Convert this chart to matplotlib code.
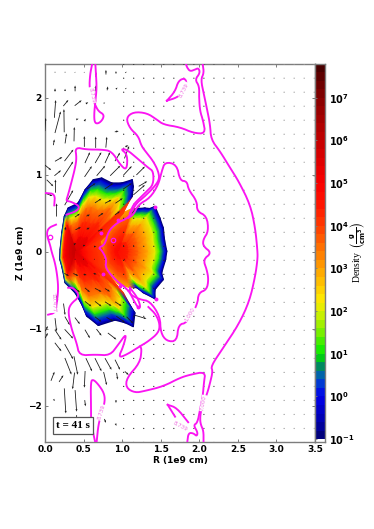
import numpy as np
import matplotlib
matplotlib.use("Agg")
import matplotlib.pyplot as plt
from matplotlib.colors import LinearSegmentedColormap, Normalize

# ---------- colour scale (log10 density -> colour) ----------
cmap_levels = [-1, -.6, 0, .3, .5, .7, .85, 1, 1.5, 2, 2.3, 2.7, 3, 3.5, 4, 4.5, 5, 5.5, 6, 6.5, 7, 7.5, 7.8]
cmap_rgb = [(0,0,110),(0,0,170),(0,0,235),(0,60,210),(0,100,170),(0,140,90),(0,190,30),(0,235,0),
            (120,240,0),(220,240,0),(255,230,0),(255,190,0),(255,160,0),(255,110,0),(255,60,0),
            (255,20,0),(250,0,0),(225,0,0),(195,0,0),(165,0,0),(135,0,0),(95,0,0),(65,0,0)]
cbar_ticks = [-1, 0, 1, 2, 3, 4, 5, 6, 7]
x_ticks = [0, .5, 1, 1.5, 2, 2.5, 3, 3.5]
y_ticks = [-2, -1, 0, 1, 2]

# ---------- density lobes: outline points, with a density profile per ray ----------
shell_frac = [1, .96, .90, .84, .75, .6, .4, .2, 0]
left_center = (.40, 0.0)
left_outline_r = [.757,.713,.82,.93,1.016,1.08,1.133,1.146,1.133,.994,.865,.735,.627,.52,.43,.30,.25,.216,.195,.19,.216,.26,.39,.476,.54,.692,.908,1.038,1.146,1.167,1.10,1.016,.908,.778]
left_outline_z = [-.017,.134,.242,.394,.502,.632,.719,.848,.935,.892,.892,.957,.935,.805,.632,.567,.459,.242,.026,-.1,-.19,-.407,-.537,-.688,-.84,-.961,-.892,-.926,-.978,-.797,-.688,-.537,-.407,-.234]
left_ray_kind = [1,1,1,1,1,1,0,0,0,0,0,0,0,0,0,0,2,2,2,2,2,2,0,0,0,0,0,0,0,0,0,1,1,1]
left_profiles = [[-1,-.1,.5,1.1,2.2,3.4,4.2,4.9,5.8],
                 [4.0,4.0,4.1,4.1,4.2,4.3,4.5,5.0,5.8],
                 [-1,.5,2,3.5,4.6,5.2,5.6,5.8,5.9]]
right_center = (.95, 0.0)
right_outline_r = [1.58,1.55,1.535,1.49,1.427,1.36,1.297,1.2,1.13,1.0,.85,.72,.72,.78,.95,1.1,1.19,1.275,1.427,1.427,1.535,1.513,1.565]
right_outline_z = [.004,.156,.307,.437,.589,.56,.567,.56,.56,.5,.35,.15,-.05,-.25,-.42,-.47,-.47,-.537,-.615,-.494,-.364,-.277,-.104]
right_ray_kind = [0,0,0,0,0,0,0,0,1,1,1,1,1,1,1,1,0,0,0,0,0,0,0]
right_profiles = [[-1,0,.6,1.2,2.1,2.9,3.6,4.3,4.9],
                  [3,3.1,3.2,3.4,3.7,4.0,4.3,4.6,4.9]]

# ---------- magenta contour lines (R, Z) ----------
contours = [
 [(.61,2.43),(.584,2.30),(.575,2.126),(.61,1.996),(.649,1.909),(.692,1.823),(.765,1.779),(.748,1.714),(.692,1.662),(.644,1.671),(.636,1.779),(.653,1.952),(.67,2.126),(.661,2.30),(.653,2.43)],
 [(.649,-2.47),(.597,-2.225),(.597,-2.05),(.592,-1.684),(.627,-1.662),(.692,-1.727),(.765,-1.835),(.778,-1.944),(.735,-2.095),(.692,-2.247),(.67,-2.47)],
 [(1.58,1.96),(1.686,2.08),(1.73,2.22),(1.816,2.255),(1.84,2.17),(1.79,2.07),(1.708,2.0),(1.58,1.96)],
 [(1.59,-1.99),(1.708,-2.03),(1.856,-2.217)],
 [(1.59,-1.99),(1.686,-2.145)],
 [(2.045,2.43),(2.06,2.32),(2.02,2.234),(2.06,2.04),(2.097,1.866),(2.14,1.65),(2.153,1.455),(2.27,1.30),(2.40,1.087),(2.51,.913),(2.66,.61),(2.725,.307),(2.755,.004),(2.755,-.104),(2.725,-.32),(2.65,-.645),(2.51,-.948),(2.31,-1.25),(2.15,-1.49),(2.175,-1.554),(2.14,-1.705),(2.105,-1.835),(2.02,-2.07),(2.01,-2.18),(2.02,-2.25),(2.055,-2.33),(2.055,-2.47)],
 [(1.83,2.43),(1.84,2.394),(1.88,2.34),(1.945,2.364),(1.99,2.385),(2.01,2.32),(1.945,2.234),(2.0,2.147),(1.997,1.996),(2.01,1.823),(2.05,1.70),(2.08,1.532),(1.924,1.54),(1.75,1.615),(1.535,1.65),(1.45,1.714),(1.32,1.80),(1.146,1.814),(1.05,1.736),(1.10,1.6),(1.21,1.5),(1.25,1.37),(1.32,1.28),(1.405,1.17),(1.47,1.04),(1.483,.935),(1.405,.827),(1.275,.70),(1.19,.632),(1.124,.524),(1.08,.437),(.93,.372),(.82,.264),(.778,.09),(.692,.048),(.735,.02),(.80,-.104),(.778,-.212),(.93,-.385),(1.08,-.494),(1.167,-.667),(1.21,-.73)],
 [(1.845,-2.47),(1.86,-2.355),(1.925,-2.36),(1.967,-2.40),(1.98,-2.35),(1.925,-2.255),(1.976,-2.225),(2.01,-2.05),(2.045,-1.88),(2.06,-1.705),(2.08,-1.56),(1.88,-1.60),(1.75,-1.64),(1.535,-1.75),(1.297,-1.81),(1.167,-1.835),(1.05,-1.77),(1.06,-1.64),(1.23,-1.446),(1.254,-1.27),(1.232,-1.23)],
 [(.30,-.47),(.37,-.47),(.454,-.58),(.324,-.688),(.30,-.797),(.346,-1.013),(.41,-1.186),(.445,-1.35),(.65,-1.338),(.843,-1.35),(.95,-1.208),(1.06,-1.056),(1.016,-1.23),(.95,-1.38),(1.06,-1.338),(1.232,-1.23),(1.34,-1.165),(1.47,-1.056),(1.49,-.948),(1.44,-.818),(1.34,-.72)],
 [(1.10,-.47),(1.10,-.558),(1.232,-.623),(1.36,-.645),(1.49,-.84),(1.50,-1.056),(1.578,-1.165),(1.708,-1.165),(1.73,-.948),(1.84,-.926),(1.976,-.688),(1.99,-.537),(2.097,-.494),(2.12,-.364),(2.097,-.234),(2.05,-.104),(2.16,-.017),(2.05,.07),(2.05,.156),(2.12,.264),(2.097,.459),(1.97,.524),(1.97,.654),(1.86,.805),(1.84,.913),(1.75,.922),(1.708,1.13),(1.556,1.165),(1.513,1.043),(1.47,.87),(1.362,.697),(1.21,.61),(1.146,.48),(1.08,.437)],
 [(.28,.48),(.41,.524),(.454,.589),(.324,.654),(.272,.654),(.30,.74),(.346,.913),(.39,1.087),(.41,1.216),(.39,1.355),(.54,1.325),(.735,1.325),(.865,1.303),(.973,1.13),(1.06,1.052),(1.07,1.26),(.98,1.333),(1.06,1.325),(1.19,1.216),(1.34,1.087),(1.405,1.043),(1.405,.87),(1.32,.784),(1.21,.675),(1.146,.61),(1.10,.50)],
 [(.01,.76),(.13,.75),(.12,.6)],
 [(.143,.35),(.043,.307),(.02,.22),(.065,.09),(.086,-.004),(.13,-.147),(.16,-.32),(.173,-.494),(.15,-.688),(.13,-.797),(.04,-.82)],
 [(1.1,-.47),(1.2,-.6),(1.24,-.72),(1.21,-.73)],
]
contour_spots_r = [.72,.94,1.427,.748,.973,1.44,1.21]
contour_spots_z = [.24,.407,.576,-.286,-.45,-.61,-.72]
contour_rings_r = [.065,.886]
contour_rings_z = [.186,.147]
contour_label_text = ["8.739","8.739","8.739","8.739","10.477","7.000","1.000"]
contour_label_r = [.605,1.80,.73,1.75,.108,2.054,1.88]
contour_label_z = [2.03,2.10,-2.09,-2.27,-.667,-1.97,-.818]
contour_label_rot = [-78,62,72,-28,-88,80,60]

# ---------- velocity arrows: mid R, mid Z, dR, dZ ----------
arrows_upper = [
 (.13,1.853,.017,.23),(.166,1.68,.074,.28),(.247,1.70,-.004,.30),(.004,1.65,.01,.17),(.115,1.42,.013,.075),
 (.27,1.47,.02,.13),(.378,1.525,.004,.186),(.51,1.43,0,.14),(.657,1.42,0,.147),(.795,1.42,.013,.14),
 (.93,1.56,.05,.01),(1.06,1.37,.04,.02),(.42,1.72,.03,.01),(.52,1.71,.02,.03),(.43,1.93,.09,.07),
 (.27,1.93,.065,.08),(.545,1.93,.03,.02),(.77,1.93,.02,.01),(.13,2.1,0,.04),(.26,2.1,0,.03),(.39,2.12,0,.075),
 (.655,2.12,.01,.075),(.81,2.12,.01,.05),(.93,2.12,.02,.02),(1.05,2.12,.015,.015),(.66,2.3,0,.065),(.79,2.33,0,.06),
 (.92,2.33,0,.03),(1.05,2.33,.015,.015),(.13,2.33,0,.01),(.26,2.33,0,.01),(.39,2.33,.01,.01),(.51,2.33,.01,.01),
 (.177,1.2,.095,.055),(.31,1.25,.115,.15),(.55,1.22,.065,.14),(.69,1.22,.08,.14),(.81,1.22,.065,.14),(.94,1.23,.065,.11),
 (1.06,1.29,.06,.16),(.04,1.09,.08,-.065),(.165,1.02,.085,.07),(.30,1.07,.13,.2),(.56,1.04,.095,.14),(.725,1.05,.11,.13),
 (.91,1.05,.13,.13),(1.07,1.05,.11,.12),(1.24,1.05,.11,.11),(.065,.89,.085,-.085),(.135,.85,0,.17),(.31,.7,.11,.195),
 (.15,.54,0,.17),(.05,.74,.095,-.035),(.6,.85,.11,.075),(.83,.85,.11,.075),(1.07,.85,.11,.075),(1.27,.88,.11,.065),
 (.69,.66,.085,.055),(.82,.65,.085,.045),(.96,.66,.095,.065),(1.22,.80,.15,.13),(.42,.47,.065,.045),(.56,.47,.045,.02),
 (.725,.48,.065,.045),(.94,.5,.065,.045),(1.18,.55,.11,.11),(.265,.3,.01,.045),(.43,.3,.07,.035),(.56,.3,.04,.02),
 (.72,.28,.065,.03),(.39,.1,.03,.015),(.51,.08,.03,.01),(.65,.065,.03,0),(.89,.08,.012,0),(1.02,.08,.012,0),(1.15,.08,.012,0),
]
arrows_lower = [
 (.39,-.1,.012,0),(.5,-.1,.012,0),(.64,-.1,.012,0),(.77,-.1,.012,0),(.9,-.1,.012,0),(1.03,-.1,.012,0),
 (.28,-.3,.06,-.035),(.4,-.3,.065,-.03),(.52,-.3,.04,-.01),(.65,-.29,.04,-.01),(.76,-.3,.02,0),(.89,-.3,.015,0),
 (.415,-.5,.075,-.055),(.55,-.5,.065,-.055),(.69,-.5,.085,-.045),(.81,-.5,.065,-.04),(1.07,-.5,.065,-.045),
 (.56,-.68,.085,-.065),(.69,-.68,.085,-.065),(.82,-.68,.085,-.055),(.95,-.68,.085,-.055),
 (.69,-.88,.085,-.065),(.84,-.88,.085,-.05),(.98,-.88,.11,-.08),(1.1,-.89,.085,-.085),(1.24,-.85,.15,-.045),
 (.15,-.6,.035,-.11),(.25,-.75,.02,-.15),(.29,-.9,.065,-.11),(.42,-.9,.065,-.085),(.14,-.95,.02,-.17),(.02,-1.0,.035,.065),
 (.17,-1.08,.085,-.13),(.31,-1.07,.11,-.12),(.55,-1.07,.065,-.11),(.7,-1.05,.065,-.085),(.87,-1.1,.11,-.085),(.02,-1.09,.035,.065),
 (.17,-1.24,.085,-.11),(.31,-1.3,.11,-.195),(.57,-1.47,.08,-.17),(.69,-1.47,.085,-.17),(.82,-1.46,.085,-.15),(.94,-1.47,.065,-.13),
 (1.06,-1.58,.05,-.045),(.4,-1.48,.05,-.24),(.3,-1.49,.085,-.215),(.1,-1.62,.045,.117),(.21,-1.65,.055,.087),(.37,-1.68,-.026,-.216),
 (.515,-1.66,-.01,-.216),(.78,-1.65,.04,-.17),(.935,-1.62,.013,-.087),(.26,-1.94,.02,-.325),(.4,-1.94,.02,-.28),(.52,-1.97,.01,-.08),
 (.12,-1.93,.02,-.02),(.92,-1.95,0,-.035),(.41,-2.2,0,-.15),(.55,-2.2,.02,-.065),(.78,-2.2,.02,-.05),(.92,-2.25,.01,-.03),
]
dot_r = np.arange(.11, 3.5, .13)
dot_z = np.arange(-2.48, 2.44, .182)
dot_shade_r = [1.0, 1.5, 2.1, 2.5, 3.5]
dot_shade_gray = [.1, .15, .2, .5, .65]

plt.rcParams["font.family"] = "DejaVu Sans"
plt.rcParams["font.weight"] = "bold"
plt.rcParams["font.size"] = 6.5
plt.rcParams["mathtext.fontset"] = "dejavusans"

W, H = 374, 529
fig = plt.figure(figsize=(W/100, H/100), dpi=100)
ax = fig.add_axes([45/W, 1-441.7/H, 270/W, 377.2/H])
cax = fig.add_axes([315/W, 1-441.7/H, 10.3/W, 377.2/H])

vmin, vmax = cmap_levels[0], cmap_levels[-1]
stops = [((l-vmin)/(vmax-vmin), tuple(c/255 for c in rgb)) for l, rgb in zip(cmap_levels, cmap_rgb)]
cmap = LinearSegmentedColormap.from_list("density", stops, N=512)
norm = Normalize(vmin, vmax)


def draw_lobe(center, out_r, out_z, kinds, profiles, z):
    out_r = np.array(out_r + out_r[:1])
    out_z = np.array(out_z + out_z[:1])
    frac = np.array(shell_frac)[:, None]
    X = center[0] + frac*(out_r-center[0])
    Y = center[1] + frac*(out_z-center[1])
    kinds = np.array(kinds + kinds[:1])
    C = np.array(profiles)[kinds].T
    ax.pcolormesh(X, Y, C, shading="gouraud", cmap=cmap, norm=norm, zorder=z)


def rounded(points, passes=2):
    """Round the corners of a traced line for drawing."""
    p = np.array(points, float)
    for _ in range(passes):
        q = .75*p[:-1]+.25*p[1:]
        r = .25*p[:-1]+.75*p[1:]
        mid = np.empty((2*len(q), 2))
        mid[0::2], mid[1::2] = q, r
        p = np.vstack([p[:1], mid, p[-1:]])
    return p


draw_lobe(right_center, right_outline_r, right_outline_z, right_ray_kind, right_profiles, 1)
draw_lobe(left_center, left_outline_r, left_outline_z, left_ray_kind, left_profiles, 2)

# velocity field
RR, ZZ = np.meshgrid(dot_r, dot_z)
keep = ~((RR < 1.0) & (np.abs(ZZ) < 2.5))
shade = np.interp(RR[keep], dot_shade_r, dot_shade_gray)
ax.quiver(RR[keep], ZZ[keep], 0*RR[keep], 0*RR[keep], color=[(s, s, s) for s in shade],
          angles="xy", scale_units="xy", scale=1, width=.0042, minlength=1.2, zorder=3)
arr = np.array(arrows_upper + arrows_lower)
ax.quiver(arr[:, 0], arr[:, 1], arr[:, 2], arr[:, 3], color="#1a1a1a", pivot="mid",
          angles="xy", scale_units="xy", scale=1, width=.003, headwidth=2.6, headlength=3.2,
          headaxislength=2.9, minlength=1.2, zorder=3)

# contours
MAG = "#fb14f2"
for c in contours:
    p = rounded(c)
    ax.plot(p[:, 0], p[:, 1], color=MAG, lw=1.35, zorder=4, solid_joinstyle="round")
ax.plot(contour_spots_r, contour_spots_z, "o", color=MAG, ms=2.8, mew=0, zorder=4)
ax.plot(contour_rings_r, contour_rings_z, "o", mfc="none", mec=MAG, mew=.9, ms=3.2, zorder=4)
for t, r, z, rot in zip(contour_label_text, contour_label_r, contour_label_z, contour_label_rot):
    ax.text(r, z, t, color="#ee72e0", fontsize=4, fontweight="normal", rotation=rot, ha="center", va="center",
            zorder=5, bbox=dict(fc="white", ec="none", pad=.3))

ax.text(.363, -2.26, "t = 41 s", family="Liberation Serif", fontweight="bold", fontsize=8, ha="center", va="center",
        zorder=6, bbox=dict(boxstyle="square,pad=0.32", fc="white", ec="#555555", lw=.9))

GR = "#7d7d7d"
ax.set_xlim(0, 3.5)
ax.set_ylim(-2.47, 2.43)
ax.set_xticks(x_ticks)
ax.set_xticklabels([f"{t:.1f}" for t in x_ticks])
ax.set_yticks(y_ticks)
ax.tick_params(direction="in", length=2, width=.7, color=GR, top=True, right=True, pad=2.5)
for s in ax.spines.values():
    s.set_color(GR)
    s.set_linewidth(1)
ax.set_xlabel("R (1e9 cm)", fontsize=6.5, fontweight="bold", labelpad=1.5)
ax.set_ylabel("Z (1e9 cm)", fontsize=6.5, fontweight="bold", labelpad=2)

# colour bar
edges = np.arange(-1, 7.81, .2)
vals = (edges[:-1]+edges[1:])/2
cax.pcolormesh([0, 1], edges, vals[:, None], cmap=cmap, norm=norm)
cax.set_xlim(0, 1)
cax.set_ylim(-1.06, 7.78)
cax.set_xticks([])
cax.set_yticks(cbar_ticks)
cax.set_yticklabels([rf"$\mathbf{{10^{{{t}}}}}$" for t in cbar_ticks], fontsize=7)
cax.tick_params(axis="y", left=True, right=False, labelleft=False, labelright=True, direction="in", length=1.5,
                width=.6, color=GR, pad=3)
for s in cax.spines.values():
    s.set_color(GR)
    s.set_linewidth(1)
fig.text(358/W, 1-252/H, r"Density  $\left(\frac{\mathrm{g}}{\mathrm{cm}^{3}}\right)$", rotation=90, ha="center", va="center",
         family="Liberation Serif", fontweight="normal", fontsize=7)

fig.savefig("out.png", dpi=100)
